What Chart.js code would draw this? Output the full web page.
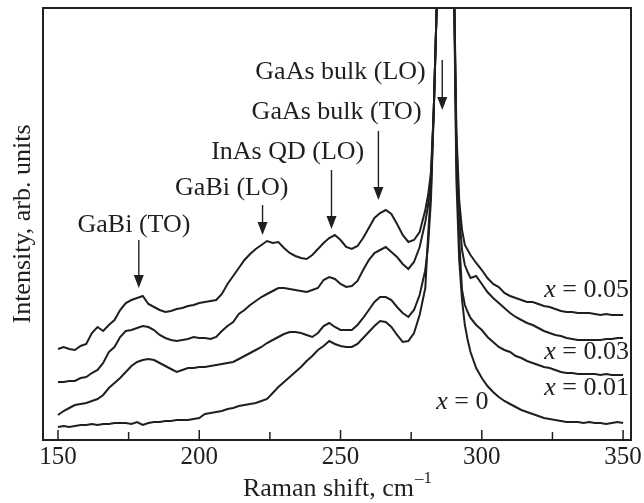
<!DOCTYPE html>
<html>
<head>
<meta charset="utf-8">
<script src="https://cdn.jsdelivr.net/npm/chart.js@4/dist/chart.umd.min.js"></script>
<style>
  html, body { margin: 0; padding: 0; background: #fff; }
  #wrap { width: 644px; height: 503px; }
</style>
</head>
<body>
<div id="wrap"><canvas id="raman"></canvas></div>
<script>
// Raman shift (cm^-1), finer steps around the GaAs peak
var shift = [150,152,154,156,158,160,162,164,166,168,170,172,174,176,178,180,182,184,186,188,
  190,192,194,196,198,200,202,204,206,208,210,212,214,216,218,220,222,224,226,228,
  230,232,234,236,238,240,242,244,246,248,250,252,254,256,258,260,262,264,266,268,
  270,272,274,276,278,280,281,282,283,284,285,286,287,288,289,290,291,292,293,294,
  295,296,298,300,302,304,306,308,310,312,314,316,318,320,322,324,326,328,330,332,
  334,336,338,340,342,344,346,348,350];

// intensity, arb. units (curves already offset as in the figure)
var x005 = [91,93,91,90,94,96,107,113,109,115,120,130,137,140,142,144,136,133,130,128,
  129,131,132,134,135,137,138,139,140,146,156,164,172,180,186,191,195,199,197,198,
  192,187,184,182,181,185,191,197,202,205,200,193,191,194,202,212,222,227,230,226,
  216,205,198,200,208,230,245,268,330,430,520,640,740,740,640,490,310,240,210,195,
  190,185,177,170,162,156,153,147,144,142,140,138,138,136,134,133,131,129,128,128,
  127,127,127,126,125,126,125,125,125];
var x003 = [58,58,59,59,62,63,67,70,77,88,93,103,109,110,112,114,113,110,105,102,
  100,99,100,101,103,102,102,101,103,109,114,118,126,130,135,139,143,146,149,152,
  152,151,150,149,148,150,152,160,163,161,156,153,154,159,170,180,187,190,193,188,
  183,176,171,178,193,218,235,262,330,430,520,640,740,740,640,490,300,225,190,175,
  168,162,164,156,148,142,137,132,127,123,120,117,115,112,109,107,105,104,102,101,
  100,100,100,100,100,101,101,102,102];
var x001 = [25,29,32,35,36,37,39,41,45,52,57,62,68,74,78,80,81,80,77,74,
  71,68,70,72,72,73,73,74,75,76,77,78,81,84,87,90,93,97,100,103,
  106,108,108,107,105,103,107,114,117,113,110,110,110,115,122,130,138,143,143,140,
  133,127,123,130,145,170,195,240,330,430,520,640,740,740,640,490,280,200,150,135,
  128,122,115,110,103,98,93,90,88,84,82,79,77,75,73,72,70,68,67,67,
  66,66,66,66,65,66,65,65,65];
var x000 = [13,14,13,14,15,15,16,15,16,16,17,17,17,16,18,15,17,18,18,19,
  19,20,20,20,21,22,26,27,28,29,31,32,34,35,36,37,39,41,47,53,
  58,63,68,73,79,84,90,94,99,96,94,93,93,96,102,108,114,119,118,113,
  105,98,99,107,125,152,205,250,330,430,520,640,740,740,640,490,260,180,140,115,
  100,88,72,62,54,48,43,39,36,33,30,28,26,24,22,21,20,19,18,18,
  18,17,18,17,17,16,17,18,17];

var seriesNames = ['x = 0.05', 'x = 0.03', 'x = 0.01', 'x = 0'];
var tickValues = [150, 200, 250, 300, 350];
var minorTicks = [175, 225, 275, 325];

// peak assignments: label, shift of the arrow, arrow top / tip (intensity)
var peakLabels = ['GaBi (TO)', 'GaBi (LO)', 'InAs QD (LO)', 'GaAs bulk (TO)', 'GaAs bulk (LO)'];
var peakShifts = [178.6, 222.4, 246.8, 263.4, 286.0];
var arrowTop = [200, 235, 270, 309, 380];
var arrowTip = [152, 205, 211, 240, 330];
var labelAt = [[176.9, 215], [211.5, 252], [231.3, 288], [248.6, 328], [250.0, 368]];

// where the composition labels sit [shift, intensity, align]
var curveLabelAt = [[352.1, 150, 'right'], [352.1, 88, 'right'], [352.1, 52, 'right'], [283.9, 38, 'left']];

var ink = '#1f1f1f';
var serif = '"Liberation Serif", "Times New Roman", serif';

function xy(vals) {
  return shift.map(function (s, i) { return { x: s, y: vals[i] }; });
}

function drawArrow(ctx, x, y0, y1) {
  ctx.beginPath();
  ctx.moveTo(x, y0);
  ctx.lineTo(x, y1 - 11);
  ctx.lineWidth = 1.4;
  ctx.stroke();
  ctx.beginPath();
  ctx.moveTo(x - 5, y1 - 13);
  ctx.lineTo(x + 5, y1 - 13);
  ctx.lineTo(x, y1);
  ctx.closePath();
  ctx.fill();
}

var decorations = {
  id: 'decorations',
  afterDraw: function (chart) {
    var ctx = chart.ctx;
    var a = chart.chartArea;
    var sx = chart.scales.x, sy = chart.scales.y;
    ctx.save();
    ctx.strokeStyle = ink;
    ctx.fillStyle = ink;

    // frame
    ctx.lineWidth = 2;
    ctx.strokeRect(a.left, a.top, a.right - a.left, a.bottom - a.top);

    // inward ticks on the bottom axis
    ctx.lineWidth = 1.5;
    tickValues.forEach(function (v) {
      var px = sx.getPixelForValue(v);
      ctx.beginPath(); ctx.moveTo(px, a.bottom); ctx.lineTo(px, a.bottom - 10); ctx.stroke();
    });
    minorTicks.forEach(function (v) {
      var px = sx.getPixelForValue(v);
      ctx.beginPath(); ctx.moveTo(px, a.bottom); ctx.lineTo(px, a.bottom - 8); ctx.stroke();
    });

    // peak labels and arrows
    ctx.font = '26px ' + serif;
    ctx.textAlign = 'center';
    ctx.textBaseline = 'middle';
    peakLabels.forEach(function (txt, i) {
      ctx.fillText(txt, sx.getPixelForValue(labelAt[i][0]), sy.getPixelForValue(labelAt[i][1]));
      drawArrow(ctx, sx.getPixelForValue(peakShifts[i]),
        sy.getPixelForValue(arrowTop[i]), sy.getPixelForValue(arrowTip[i]));
    });

    // composition labels: italic x, upright rest
    seriesNames.forEach(function (name, i) {
      var rest = name.slice(1);
      ctx.font = '26px ' + serif;
      var wRest = ctx.measureText(rest).width;
      ctx.font = 'italic 26px ' + serif;
      var wX = ctx.measureText('x').width;
      var px = sx.getPixelForValue(curveLabelAt[i][0]);
      var py = sy.getPixelForValue(curveLabelAt[i][1]);
      if (curveLabelAt[i][2] === 'right') px -= wX + wRest;
      ctx.textAlign = 'left';
      ctx.fillText('x', px, py);
      ctx.font = '26px ' + serif;
      ctx.fillText(rest, px + wX, py);
    });

    // axis titles
    ctx.textAlign = 'left';
    ctx.textBaseline = 'alphabetic';
    ctx.font = '26px ' + serif;
    var main = 'Raman shift, cm';
    ctx.font = '17px ' + serif;
    var wSup = ctx.measureText('\u20131').width;
    ctx.font = '26px ' + serif;
    var wMain = ctx.measureText(main).width;
    var cx = (a.left + a.right) / 2;
    var x0 = cx - (wMain + wSup) / 2;
    ctx.fillText(main, x0, 496);
    ctx.font = '17px ' + serif;
    ctx.fillText('\u20131', x0 + wMain + 1, 483);

    ctx.translate(30, (a.top + a.bottom) / 2);
    ctx.rotate(-Math.PI / 2);
    ctx.textAlign = 'center';
    ctx.font = '26px ' + serif;
    ctx.fillText('Intensity, arb. units', 0, 0);
    ctx.restore();
  }
};

var datasets = [x005, x003, x001, x000].map(function (vals, i) {
  return {
    label: seriesNames[i],
    data: xy(vals),
    borderColor: ink,
    borderWidth: 2,
    pointRadius: 0,
    tension: 0,
    fill: false
  };
});

new Chart(document.getElementById('raman'), {
  type: 'line',
  data: { datasets: datasets },
  options: {
    responsive: true,
    maintainAspectRatio: false,
    animation: false,
    layout: { padding: { left: 0, right: 12, top: 8, bottom: 0 } },
    plugins: { legend: { display: false }, tooltip: { enabled: false } },
    scales: {
      x: {
        type: 'linear',
        min: 144.7,
        max: 352.8,
        grid: { display: false, drawTicks: false },
        border: { display: false },
        afterBuildTicks: function (s) { s.ticks = tickValues.map(function (v) { return { value: v }; }); },
        afterFit: function (s) { s.height = 63; },
        ticks: { color: ink, padding: 2, font: { family: serif, size: 25 } }
      },
      y: {
        min: 0,
        max: 432,
        grid: { display: false, drawTicks: false },
        border: { display: false },
        ticks: { display: false },
        afterFit: function (s) { s.width = 43; }
      }
    }
  },
  plugins: [decorations]
});
</script>
</body>
</html>
